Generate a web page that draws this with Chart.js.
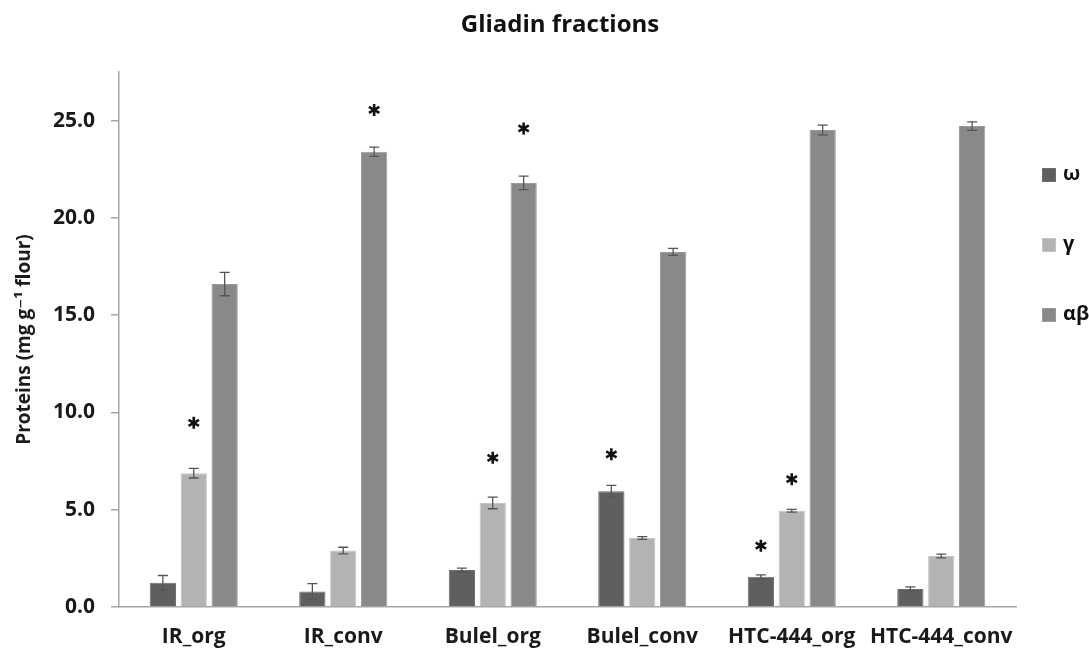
<!DOCTYPE html>
<html>
<head>
<meta charset="utf-8">
<script src="https://cdn.jsdelivr.net/npm/chart.js@4.4.0/dist/chart.umd.min.js"></script>
<style>
  html, body { margin: 0; padding: 0; background: #ffffff; }
  #wrap { width: 1089px; height: 653px; }
</style>
</head>
<body>
<div id="wrap"><canvas id="c" width="1089" height="653"></canvas></div>
<script>
const chartTitle = 'Gliadin fractions';
const yTitle = 'Proteins (mg g\u207B\u00B9 flour)';
const categories = ['IR_org', 'IR_conv', 'Bulel_org', 'Bulel_conv', 'HTC-444_org', 'HTC-444_conv'];
const seriesNames = ['\u03C9', '\u03B3', '\u03B1\u03B2'];
const omega = [1.25, 0.8, 1.9, 5.95, 1.55, 0.93];
const omegaErr = [0.37, 0.4, 0.1, 0.3, 0.1, 0.1];
const gamma = [6.88, 2.9, 5.35, 3.55, 4.95, 2.62];
const gammaErr = [0.25, 0.17, 0.3, 0.07, 0.07, 0.1];
const alphaBeta = [16.6, 23.4, 21.8, 18.25, 24.52, 24.72];
const alphaBetaErr = [0.6, 0.24, 0.35, 0.18, 0.25, 0.22];
// significance asterisk positions (in axis units), null = none
const omegaStar = [null, null, null, 7.85, 3.15, null];
const gammaStar = [9.47, null, 7.67, null, 6.57, null];
const alphaBetaStar = [null, 25.55, 24.6, null, null, null];
const yTickValues = [0, 5, 10, 15, 20, 25];
const yMax = 27.5;

const colors = ['#5f5f5f', '#b3b3b3', '#898989'];
const borders = ['#6e6e6e', '#c4c4c4', '#9a9a9a'];
const FONT = "'Open Sans', 'DejaVu Sans', sans-serif";

const errs = [omegaErr, gammaErr, alphaBetaErr];
const stars = [omegaStar, gammaStar, alphaBetaStar];

const extrasPlugin = {
  id: 'extras',
  afterDatasetsDraw(chart) {
    const ctx = chart.ctx;
    const y = chart.scales.y;
    chart.data.datasets.forEach((ds, di) => {
      const meta = chart.getDatasetMeta(di);
      meta.data.forEach((bar, i) => {
        const v = ds.data[i];
        const e = errs[di][i];
        const x = bar.x;
        const yTop = y.getPixelForValue(v + e);
        const yBot = y.getPixelForValue(v - e);
        ctx.save();
        ctx.strokeStyle = '#555555';
        ctx.lineWidth = 1.3;
        ctx.beginPath();
        ctx.moveTo(x, yTop); ctx.lineTo(x, yBot);
        ctx.moveTo(x - 5, yTop); ctx.lineTo(x + 5, yTop);
        ctx.moveTo(x - 5, yBot); ctx.lineTo(x + 5, yBot);
        ctx.stroke();
        ctx.restore();
        const s = stars[di][i];
        if (s !== null && s !== undefined) {
          const sy = y.getPixelForValue(s);
          ctx.save();
          ctx.strokeStyle = '#111111';
          ctx.lineWidth = 2.6;
          ctx.lineCap = 'butt';
          const r = 6;
          ctx.beginPath();
          [90, 30, 150].forEach(a => {
            const rad = a * Math.PI / 180;
            ctx.moveTo(x - r * Math.cos(rad), sy - r * Math.sin(rad));
            ctx.lineTo(x + r * Math.cos(rad), sy + r * Math.sin(rad));
          });
          ctx.stroke();
          ctx.restore();
        }
      });
    });
  },
  afterDraw(chart) {
    const ctx = chart.ctx;
    ctx.save();
    ctx.fillStyle = '#111111';
    ctx.font = "bold 24px " + FONT;
    ctx.textAlign = 'center';
    ctx.textBaseline = 'middle';
    ctx.fillText(chartTitle, 560, 25);
    // legend
    const legendY = [175, 245, 315];
    chart.data.datasets.forEach((ds, i) => {
      ctx.fillStyle = ds.backgroundColor;
      ctx.fillRect(1042, legendY[i] - 7, 14, 14);
      ctx.strokeStyle = ds.borderColor;
      ctx.lineWidth = 1;
      ctx.strokeRect(1042.5, legendY[i] - 6.5, 13, 13);
      ctx.fillStyle = '#111111';
      ctx.font = "bold 20px " + FONT;
      ctx.textAlign = 'left';
      ctx.textBaseline = 'middle';
      ctx.fillText(ds.label, 1063, legendY[i] - 1);
    });
    ctx.restore();
  }
};

const seriesData = [omega, gamma, alphaBeta];
new Chart(document.getElementById('c'), {
  type: 'bar',
  data: {
    labels: categories,
    datasets: seriesData.map((d, i) => ({
      label: seriesNames[i],
      data: d,
      backgroundColor: colors[i],
      borderColor: borders[i],
      borderWidth: 1,
      barPercentage: 0.85,
      categoryPercentage: 0.62
    }))
  },
  options: {
    responsive: false,
    animation: false,
    devicePixelRatio: 1,
    layout: { padding: { top: 72, right: 73, left: 0, bottom: 0 } },
    plugins: {
      legend: { display: false },
      title: { display: false },
      tooltip: { enabled: false }
    },
    scales: {
      x: {
        grid: { display: true, drawOnChartArea: false, drawTicks: false },
        border: { display: true, color: '#a6a6a6', width: 1.5 },
        ticks: {
          padding: 17,
          color: '#1a1a1a',
          font: { family: FONT, size: 21, weight: 'bold' },
          maxRotation: 0,
          autoSkip: false
        },
        afterFit(scale) { scale.height = 46; }
      },
      y: {
        min: 0,
        max: yMax,
        afterBuildTicks(scale) {
          scale.ticks = yTickValues.map(v => ({ value: v }));
        },
        grid: { display: true, drawOnChartArea: false, drawTicks: true, tickLength: 8, color: '#a6a6a6', lineWidth: 1.5 },
        border: { display: true, color: '#a6a6a6', width: 1.5 },
        ticks: {
          padding: 16,
          color: '#1a1a1a',
          font: { family: FONT, size: 21, weight: 'bold' },
          callback: (v) => Number(v).toFixed(1)
        },
        title: {
          display: true,
          text: yTitle,
          color: '#1a1a1a',
          font: { family: FONT, size: 19, weight: 'bold' },
          padding: { top: 13, bottom: 0 }
        },
        afterFit(scale) { scale.width = 119; }
      }
    }
  },
  plugins: [extrasPlugin]
});
</script>
</body>
</html>
